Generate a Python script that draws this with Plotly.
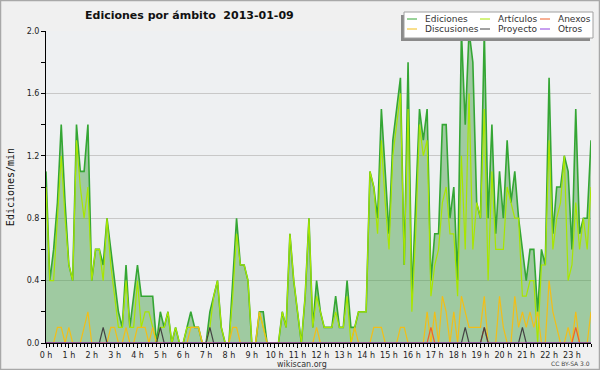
import plotly.graph_objects as go

# ---- data (10-minute steps, edits per minute) ----
minutes = [10 * i for i in range(144)]

ediciones = [
    1.1, 0.4, 0.6, 0.9, 1.4, 0.9, 0.5, 0.4, 1.4, 1.1, 1.1, 1.4,
    0.4, 0.6, 0.6, 0.5, 0.8, 0.6, 0.4, 0.2, 0.1, 0.5, 0.1, 0.3,
    0.5, 0.3, 0.3, 0.3, 0.3, 0.0, 0.2, 0.1, 0.2, 0.0, 0.1, 0.0,
    0.0, 0.1, 0.2, 0.1, 0.1, 0.0, 0.0, 0.2, 0.3, 0.4, 0.1, 0.0,
    0.0, 0.4, 0.8, 0.5, 0.5, 0.4, 0.0, 0.0, 0.2, 0.2, 0.0, 0.0,
    0.0, 0.0, 0.2, 0.1, 0.7, 0.4, 0.2, 0.0, 0.3, 0.8, 0.1, 0.4,
    0.2, 0.1, 0.1, 0.1, 0.3, 0.1, 0.1, 0.4, 0.1, 0.1, 0.2, 0.2,
    0.2, 1.1, 1.0, 0.8, 1.5, 1.1, 0.7, 1.3, 1.5, 1.7, 0.5, 1.8,
    0.3, 0.9, 1.5, 1.3, 1.5, 0.4, 0.7, 0.7, 1.4, 1.4, 0.8, 1.0,
    0.4, 2.0, 1.4, 2.0, 1.8, 0.9, 0.8, 2.0, 0.8, 1.4, 0.7, 1.1,
    0.8, 1.3, 0.9, 1.1, 0.8, 0.6, 0.4, 0.6, 0.6, 0.2, 0.6, 0.5,
    1.7, 0.7, 1.0, 1.0, 1.2, 1.1, 0.6, 1.5, 0.7, 0.8, 0.8, 1.3,
]

articulos = [
    1.0, 0.4, 0.4, 0.8, 1.2, 0.8, 0.5, 0.4, 1.3, 1.0, 0.8, 1.0,
    0.4, 0.6, 0.6, 0.4, 0.8, 0.5, 0.3, 0.1, 0.1, 0.4, 0.1, 0.1,
    0.4, 0.1, 0.2, 0.2, 0.1, 0.0, 0.1, 0.1, 0.2, 0.0, 0.1, 0.0,
    0.0, 0.1, 0.1, 0.1, 0.1, 0.0, 0.0, 0.1, 0.3, 0.4, 0.1, 0.0,
    0.0, 0.3, 0.7, 0.5, 0.5, 0.4, 0.0, 0.0, 0.2, 0.1, 0.0, 0.0,
    0.0, 0.0, 0.2, 0.1, 0.7, 0.4, 0.2, 0.0, 0.3, 0.8, 0.1, 0.3,
    0.2, 0.1, 0.1, 0.1, 0.2, 0.1, 0.1, 0.3, 0.0, 0.1, 0.2, 0.2,
    0.2, 1.1, 1.0, 0.7, 1.3, 0.9, 0.6, 1.2, 1.4, 1.6, 0.5, 1.5,
    0.2, 0.7, 1.4, 1.2, 1.3, 0.3, 0.5, 0.6, 0.9, 1.0, 0.7, 0.7,
    0.3, 1.2, 0.6, 1.6, 0.6, 0.9, 0.8, 1.5, 0.4, 1.1, 0.6, 0.6,
    0.6, 1.0, 0.9, 0.8, 0.8, 0.3, 0.3, 0.4, 0.4, 0.0, 0.5, 0.5,
    1.3, 0.6, 0.8, 0.9, 1.2, 0.4, 0.5, 0.9, 0.6, 0.8, 0.6, 1.0,
]

discusiones = [
    0.0, 0.0, 0.0, 0.1, 0.1, 0.0, 0.1, 0.0, 0.0, 0.0, 0.1, 0.2,
    0.0, 0.0, 0.0, 0.0, 0.0, 0.1, 0.1, 0.0, 0.0, 0.1, 0.0, 0.0,
    0.1, 0.1, 0.1, 0.0, 0.1, 0.0, 0.0, 0.0, 0.0, 0.0, 0.0, 0.0,
    0.0, 0.0, 0.1, 0.1, 0.1, 0.0, 0.0, 0.0, 0.0, 0.0, 0.0, 0.0,
    0.0, 0.1, 0.1, 0.0, 0.0, 0.0, 0.0, 0.0, 0.2, 0.1, 0.0, 0.0,
    0.0, 0.0, 0.0, 0.0, 0.0, 0.0, 0.0, 0.0, 0.0, 0.0, 0.0, 0.1,
    0.0, 0.0, 0.0, 0.0, 0.0, 0.0, 0.0, 0.0, 0.0, 0.1, 0.0, 0.0,
    0.0, 0.0, 0.1, 0.1, 0.1, 0.0, 0.0, 0.0, 0.0, 0.1, 0.1, 0.0,
    0.0, 0.0, 0.0, 0.0, 0.2, 0.0, 0.2, 0.0, 0.3, 0.2, 0.0, 0.2,
    0.0, 0.3, 0.2, 0.1, 0.1, 0.1, 0.1, 0.3, 0.0, 0.0, 0.0, 0.3,
    0.1, 0.0, 0.0, 0.3, 0.1, 0.2, 0.1, 0.2, 0.1, 0.2, 0.0, 0.0,
    0.4, 0.2, 0.1, 0.0, 0.0, 0.1, 0.0, 0.2, 0.0, 0.0, 0.0, 0.2,
]

proyecto = [0.0] * 144
for k in (15, 30, 43, 110, 115, 125):
    proyecto[k] = 0.1

anexos = [0.0] * 144
for k in (101, 115, 139):
    anexos[k] = 0.1

otros = [0.0] * 144

hour_vals = [60 * h for h in range(24)]
hour_labels = [f"{h} h" for h in range(24)]

# ---- geometry helpers (plot area in pixels) ----
W, H = 600, 370
L, R, T, B = 46, 9, 31, 27
PW, PH = W - L - R, H - T - B


def px(x):
    return (x - L) / PW


def py(y):
    return (H - B - y) / PH


FONT = "DejaVu Sans"
C_ED = "#34a634"
C_ART = "#a8e600"
C_DIS = "#f2be18"
C_ANX = "#f0602a"
C_PRO = "#444444"
C_OTR = "#9040e0"

fig = go.Figure()
fig.add_trace(go.Scatter(x=minutes, y=ediciones, mode="lines", name="Ediciones",
                         line=dict(color=C_ED, width=1.6), fill="tozeroy",
                         fillcolor="rgba(70,160,70,0.47)"))
fig.add_trace(go.Scatter(x=minutes, y=articulos, mode="lines", name="Artículos",
                         line=dict(color=C_ART, width=1.2)))
fig.add_trace(go.Scatter(x=minutes, y=discusiones, mode="lines", name="Discusiones",
                         line=dict(color=C_DIS, width=1.2)))
fig.add_trace(go.Scatter(x=minutes, y=anexos, mode="lines", name="Anexos",
                         line=dict(color=C_ANX, width=1.2)))
fig.add_trace(go.Scatter(x=minutes, y=proyecto, mode="lines", name="Proyecto",
                         line=dict(color=C_PRO, width=1.2)))
fig.add_trace(go.Scatter(x=minutes, y=otros, mode="lines", name="Otros",
                         line=dict(color=C_OTR, width=1.2)))

shapes = []
annotations = []

# outer frame
shapes.append(dict(type="rect", xref="paper", yref="paper",
                   x0=px(0.5), x1=px(W - 0.5), y0=py(H - 0.5), y1=py(0.5),
                   line=dict(color="#a8a8a8", width=1.5), fillcolor="rgba(0,0,0,0)",
                   layer="above"))

# legend box with shadow
shapes.append(dict(type="rect", xref="paper", yref="paper",
                   x0=px(401), x1=px(590), y0=py(41), y1=py(15),
                   line=dict(width=0), fillcolor="#8a8a8a", layer="above"))
shapes.append(dict(type="rect", xref="paper", yref="paper",
                   x0=px(404), x1=px(593), y0=py(38), y1=py(12),
                   line=dict(color="#a0a0a0", width=1), fillcolor="#ffffff", layer="above"))

legend_items = [
    ("Ediciones", C_ED, 407, 19), ("Artículos", C_ART, 480, 19), ("Anexos", C_ANX, 540, 19),
    ("Discusiones", C_DIS, 407, 29), ("Proyecto", C_PRO, 480, 29), ("Otros", C_OTR, 540, 29),
]
for name, col, x0, yy in legend_items:
    shapes.append(dict(type="line", xref="paper", yref="paper",
                       x0=px(x0), x1=px(x0 + 10), y0=py(yy), y1=py(yy),
                       line=dict(color=col, width=1), layer="above"))
    annotations.append(dict(text=name, xref="paper", yref="paper", x=px(x0 + 16), y=py(yy),
                            xanchor="left", yanchor="middle", showarrow=False,
                            font=dict(family=FONT, size=9, color="#333333")))

annotations.append(dict(text="wikiscan.org", xref="paper", yref="paper", x=px(302), y=py(364),
                        xanchor="center", yanchor="middle", showarrow=False,
                        font=dict(family=FONT, size=8, color="#333333")))
annotations.append(dict(text="CC BY-SA 3.0", xref="paper", yref="paper", x=px(592), y=py(363),
                        xanchor="right", yanchor="middle", showarrow=False,
                        font=dict(family=FONT, size=6, color="#444444")))

fig.update_layout(
    width=W, height=H,
    margin=dict(l=L, r=R, t=T, b=B, pad=0),
    paper_bgcolor="#f0f0f0", plot_bgcolor="#eef0f2",
    showlegend=False,
    title=dict(text="<b>Ediciones por ámbito  2013-01-09</b>", x=85 / W, xref="container",
               xanchor="left", y=1 - 15 / H, yref="container", yanchor="middle",
               font=dict(family=FONT, size=11, color="#111111")),
    shapes=shapes, annotations=annotations,
    xaxis=dict(range=[0, 1430], tickvals=hour_vals, ticktext=hour_labels,
               ticks="outside", ticklen=4, tickcolor="#000", tickwidth=1,
               minor=dict(dtick=10, tick0=0, ticks="outside", ticklen=3, tickcolor="#000"),
               showline=True, linecolor="#000", linewidth=1, showgrid=False, zeroline=False,
               tickfont=dict(family=FONT, size=8, color="#222222")),
    yaxis=dict(range=[0, 2.0], tickvals=[0, 0.4, 0.8, 1.2, 1.6, 2.0], tickformat=".1f",
               ticks="outside", ticklen=4, tickcolor="#000", tickwidth=1,
               minor=dict(dtick=0.2, tick0=0, ticks="outside", ticklen=4, tickcolor="#000",
                          showgrid=False),
               showline=True, linecolor="#000", linewidth=1, showgrid=True,
               gridcolor="#c8c8c8", gridwidth=1, zeroline=False,
               tickfont=dict(family=FONT, size=8, color="#222222"),
               title=dict(text="Ediciones/min", standoff=10,
                          font=dict(family="DejaVu Sans Mono", size=10, color="#111111"))),
)

fig.write_html(
    "out.html",
    config={"displayModeBar": False},
    post_script="document.body.style.margin='0';document.body.style.overflow='hidden';",
)
